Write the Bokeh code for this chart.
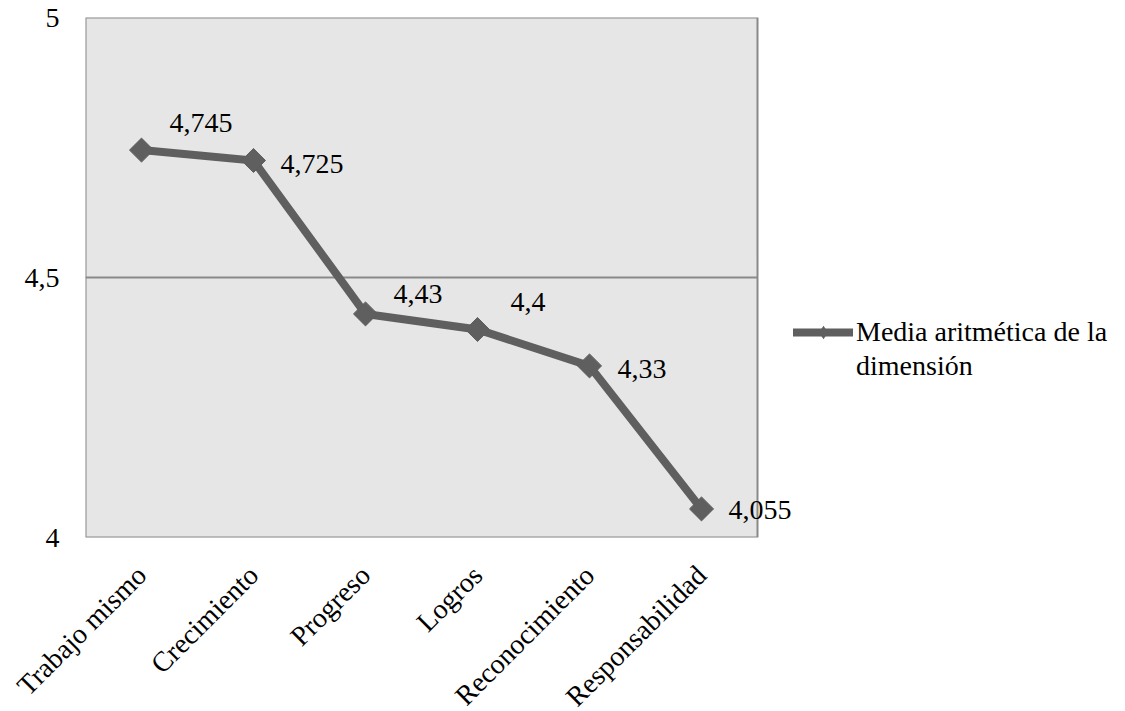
import math
from bokeh.plotting import figure
from bokeh.models import (Range1d, FixedTicker, Legend, LegendItem,
                          ColumnDataSource, LabelSet, BoxAnnotation)
from bokeh.embed import file_html
from bokeh.resources import INLINE

# Dimension means
dimensiones = ["Trabajo mismo", "Crecimiento", "Progreso", "Logros",
               "Reconocimiento", "Responsabilidad"]
medias = [4.745, 4.725, 4.43, 4.4, 4.33, 4.055]
serie_lineas = ["Media aritmética de la", "dimensión"]
y_ticks = [4, 4.5, 5]
y_tick_labels = ["4", "4,5", "5"]

FONT = "'Times New Roman', 'Liberation Serif', serif"
LINE_COLOR = "#5f5f5f"
FRAME_COLOR = "#898989"
AREA_BG = "#e6e6e6"

n = len(dimensiones)
PLOT_W = 672          # width of the shaded plotting area, px
FRAME_W = 1040        # frame also hosts the outside value label and legend
# one band per category; each category sits at the centre of its band
centros = [i + 0.5 for i in range(n)]

etiquetas = [f"{v:g}".replace(".", ",") for v in medias]
src = ColumnDataSource(dict(x=centros, y=medias))

p = figure(frame_width=FRAME_W, frame_height=520, output_backend="svg",
           toolbar_location=None,
           x_range=Range1d(0, n * FRAME_W / PLOT_W), y_range=Range1d(4, 5),
           min_border_left=85, min_border_right=0, min_border_top=17,
           min_border_bottom=170)
p.background_fill_color = "white"
p.outline_line_color = None

# shaded plotting area with its grey border
p.add_layout(BoxAnnotation(left=0, right=n, bottom=4, top=5,
                           fill_color=AREA_BG, fill_alpha=1,
                           line_color=FRAME_COLOR, line_alpha=1, line_width=2,
                           level="underlay"))
# single horizontal gridline
p.segment(x0=[0], x1=[n], y0=[4.5], y1=[4.5], line_color=FRAME_COLOR,
          line_width=2)

# axes
p.yaxis.ticker = FixedTicker(ticks=y_ticks)
p.yaxis.major_label_overrides = {t: l for t, l in zip(y_ticks, y_tick_labels)}
p.xaxis.ticker = FixedTicker(ticks=centros)
p.xaxis.major_label_overrides = {c: d for c, d in zip(centros, dimensiones)}
for ax in (p.xaxis, p.yaxis):
    ax.axis_line_color = None
    ax.major_tick_line_color = None
    ax.minor_tick_line_color = None
    ax.major_tick_out = 0
    ax.major_label_text_font = FONT
    ax.major_label_text_font_size = "28px"
    ax.major_label_text_color = "black"
p.yaxis.major_label_standoff = 26
p.xaxis.major_label_orientation = math.pi / 4
p.xaxis.major_label_standoff = 33
p.grid.grid_line_color = None

line = p.line("x", "y", source=src, line_color=LINE_COLOR, line_width=8,
              line_join="miter", line_cap="round")
p.scatter("x", "y", source=src, marker="square", angle=math.pi / 4,
          size=17, fill_color=LINE_COLOR, line_color=LINE_COLOR)
# zero-size diamonds: invisible on the chart, drawn as the legend key marker
key_marker = p.scatter("x", "y", source=src, marker="diamond", size=0,
                       fill_color=LINE_COLOR, line_color=None)
# transparent stand-in so the series name wraps onto a second legend row
blank = p.line(x=[], y=[], line_alpha=0)

# value labels beside each point (screen offsets, px; positive dy = down)
dx = [28, 27, 28, 33, 28, 27]
dy = [-18, 12, -11, -19, 12, 10]
lbl_src = ColumnDataSource(dict(x=centros, y=medias, txt=etiquetas,
                                dx=dx, dy=[-d for d in dy]))
p.add_layout(LabelSet(x="x", y="y", text="txt", source=lbl_src,
                      x_offset="dx", y_offset="dy",
                      text_font=FONT, text_font_size="28px",
                      text_color="black", text_align="left",
                      text_baseline="alphabetic"))

legend = Legend(items=[LegendItem(label=serie_lineas[0],
                                  renderers=[line, key_marker]),
                       LegendItem(label=serie_lineas[1], renderers=[blank])],
                location=(PLOT_W + 36, 154), glyph_width=60, glyph_height=34,
                label_standoff=3, padding=0, margin=0, spacing=0,
                border_line_color=None, background_fill_alpha=0,
                label_text_font=FONT, label_text_font_size="28px",
                label_text_color="black")
p.add_layout(legend, "center")

open("out.html", "w").write(file_html(p, INLINE))
